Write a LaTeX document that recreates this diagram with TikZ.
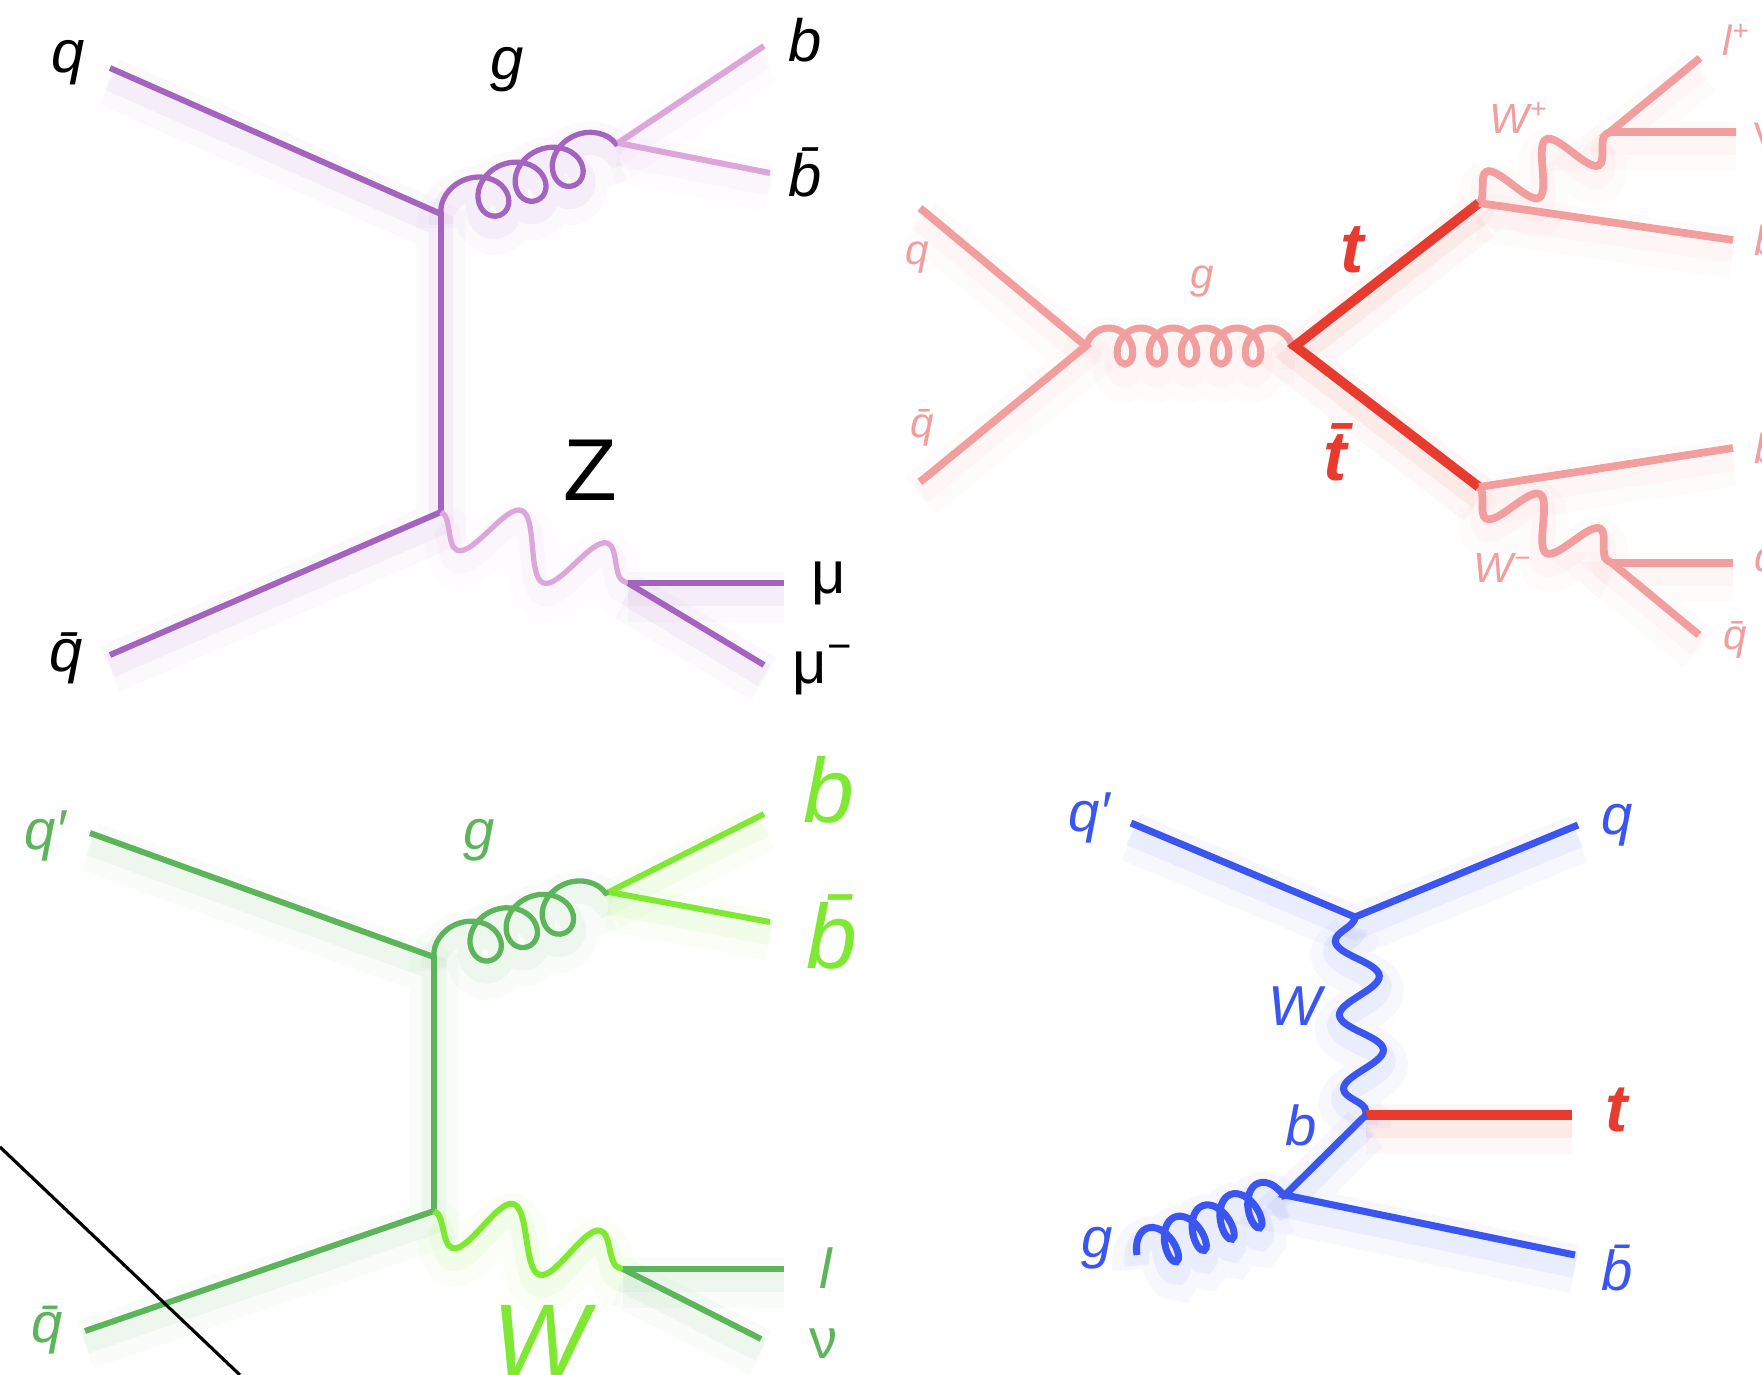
\documentclass[tikz,border=0pt]{standalone}
\usepackage{fontspec}
\setmainfont{Liberation Sans}
\usetikzlibrary{decorations.pathmorphing}

\definecolor{zpurple}{HTML}{A463BF}
\definecolor{zlight}{HTML}{DCA6DA}
\definecolor{tpink}{HTML}{F29E9E}
\definecolor{tred}{HTML}{E63B2E}
\definecolor{wgreen}{HTML}{5DB55B}
\definecolor{wlime}{HTML}{7FE832}
\definecolor{sblue}{HTML}{3A55F0}

\tikzset{
  glow/.style={preaction={draw=#1, line width=14pt, opacity=.04, transform canvas={yshift=-4pt}},
               preaction={draw=#1, line width=7pt, opacity=.07, transform canvas={yshift=-3pt}}},
  prop/.style={draw=#1, line width=1.7pt, glow=#1},
  gluon/.style={decorate, decoration={coil, aspect=1.05, amplitude=2.3mm, segment length=4mm}},
  boson/.style={decorate, decoration={snake, amplitude=3mm, segment length=9.2mm}},
  lbl/.style={inner sep=0pt, font=\fontsize{#1}{#1}\selectfont\itshape},
  ulbl/.style={inner sep=0pt, font=\fontsize{#1}{#1}\selectfont},
}

\begin{document}
\begin{tikzpicture}[x=0.01cm, y=-0.01cm]
  \useasboundingbox (0,0) rectangle (1762,1375);

  % q qbar -> Z b bbar
  \coordinate (qA) at (110,68);
  \coordinate (vA1) at (441,214);
  \coordinate (gA) at (618,143);
  \coordinate (bA) at (764,46);
  \coordinate (bbA) at (770,173);
  \coordinate (vA2) at (441,512);
  \coordinate (qbA) at (110,655);
  \coordinate (zA) at (628,583);
  \coordinate (muA) at (784,583);
  \coordinate (mumA) at (764,665);
  \draw[prop=zpurple] (qA) -- (vA1) -- (vA2) -- (qbA);
  \draw[prop=zpurple, line width=1.5pt, gluon] (vA1) -- (gA);
  \draw[prop=zlight] (gA) -- (bA);
  \draw[prop=zlight] (gA) -- (bbA);
  \draw[prop=zlight, line width=1.5pt, boson, decoration={mirror}] (vA2) -- (zA);
  \draw[prop=zpurple] (zA) -- (muA);
  \draw[prop=zpurple] (zA) -- (mumA);
  \node[lbl=17] (lqA) at (68,63) {q};
  \node[lbl=17] (lgA) at (507,70) {g};
  \node[lbl=17] (lbA) at (805,40) {b};
  \node[lbl=17] (lbbA) at (805,172) {\=b};
  \node[lbl=17] (lqbA) at (66,658) {\=q};
  \node[ulbl=25] (lzA) at (590,470) {Z};
  \node[ulbl=17] (lmuA) at (829,583) {μ};
  \node[ulbl=17] (lmumA) at (823,670) {μ\textsuperscript{−}};

  % t tbar pair
  \coordinate (qB) at (920,208);
  \coordinate (qbB) at (920,482);
  \coordinate (vB1) at (1086,346);
  \coordinate (vB2) at (1295,346);
  \coordinate (tB) at (1479,203);
  \coordinate (tbB) at (1479,487);
  \coordinate (wpB) at (1610,132);
  \coordinate (lpB) at (1700,58);
  \coordinate (nuB) at (1736,132);
  \coordinate (bB) at (1733,240);
  \coordinate (bbB) at (1733,448);
  \coordinate (wmB) at (1612,563);
  \coordinate (qqB) at (1733,563);
  \coordinate (qbbB) at (1699,635);
  \draw[prop=tpink, line width=2.2pt] (qB) -- (vB1) -- (qbB);
  \draw[prop=tpink, line width=2pt, gluon, decoration={amplitude=1.8mm, aspect=.83, segment length=3.2mm}] (vB1) -- (vB2);
  \draw[prop=tred, line width=2.8pt] (tB) -- (vB2) -- (tbB);
  \draw[prop=tpink, line width=2.2pt, boson, decoration={amplitude=2.4mm, segment length=6.8mm}] (tB) -- (wpB);
  \draw[prop=tpink, line width=2.2pt, boson, decoration={amplitude=2.4mm, segment length=6.95mm, mirror}] (tbB) -- (wmB);
  \draw[prop=tpink, line width=2.2pt] (lpB) -- (wpB) -- (nuB);
  \draw[prop=tpink, line width=2.2pt] (tB) -- (bB);
  \draw[prop=tpink, line width=2.2pt] (tbB) -- (bbB);
  \draw[prop=tpink, line width=2.2pt] (qqB) -- (wmB) -- (qbbB);
  \begin{scope}[every node/.append style={text=tpink}]
    \node[lbl=12] (lqB) at (917,258) {q};
    \node[lbl=12] (lqbB) at (922,428) {\=q};
    \node[lbl=12] (lgB) at (1202,282) {g};
    \node[lbl=12] (lwpB) at (1519,118) {W\textsuperscript{+}};
    \node[lbl=12] (lwmB) at (1503,568) {W\textsuperscript{−}};
    \node[lbl=12, anchor=west] (llpB) at (1722,40) {l\textsuperscript{+}};
    \node[ulbl=12, anchor=west] (lnuB) at (1754,134) {ν};
    \node[lbl=12, anchor=west] (lbB) at (1754,240) {b};
    \node[lbl=12, anchor=west] (lbbB) at (1754,446) {\=b};
    \node[lbl=12, anchor=west] (lqqB) at (1754,565) {q};
    \node[lbl=12] (lqbbB) at (1735,640) {\=q};
  \end{scope}
  \node[lbl=20, text=tred, font=\fontsize{20}{20}\selectfont\bfseries\itshape] (ltB) at (1352,250) {t};
  \node[lbl=20, text=tred, font=\fontsize{20}{20}\selectfont\bfseries\itshape] (ltbB) at (1335,452) {\=t};

  % q q' -> W b bbar
  \coordinate (qC) at (90,833);
  \coordinate (vC1) at (434,957);
  \coordinate (gC) at (609,892);
  \coordinate (bC) at (764,814);
  \coordinate (bbC) at (770,922);
  \coordinate (vC2) at (434,1211);
  \coordinate (qbC) at (85,1331);
  \coordinate (wC) at (623,1269);
  \coordinate (lC) at (784,1269);
  \coordinate (nuC) at (761,1339);
  \draw[prop=wgreen] (qC) -- (vC1) -- (vC2) -- (qbC);
  \draw[prop=wgreen, line width=1.5pt, gluon, decoration={segment length=3.85mm}] (vC1) -- (gC);
  \draw[prop=wlime] (gC) -- (bC);
  \draw[prop=wlime] (gC) -- (bbC);
  \draw[prop=wlime, boson, decoration={segment length=9.1mm, mirror}] (vC2) -- (wC);
  \draw[prop=wgreen] (wC) -- (lC);
  \draw[prop=wgreen] (wC) -- (nuC);
  \begin{scope}[every node/.append style={text=wgreen}]
    \node[lbl=16] (lqC) at (45,836) {q′};
    \node[lbl=16] (lgC) at (479,840) {g};
    \node[lbl=16] (lqbC) at (47,1330) {\=q};
    \node[lbl=16] (llC) at (826,1268) {l};
    \node[ulbl=16] (lnuC) at (824,1344) {ν};
  \end{scope}
  \begin{scope}[every node/.append style={text=wlime}]
    \node[lbl=26] (lbC) at (829,790) {b};
    \node[lbl=26] (lbbC) at (832,932) {\=b};
    \node[lbl=29] (lwC) at (541,1340) {W};
  \end{scope}

  % single top, t-channel
  \coordinate (qpD) at (1131,823);
  \coordinate (vD1) at (1355,917);
  \coordinate (qD) at (1578,825);
  \coordinate (vD2) at (1366,1115);
  \coordinate (tD) at (1572,1115);
  \coordinate (vD3) at (1285,1195);
  \coordinate (gD) at (1137,1255);
  \coordinate (bbD) at (1575,1255);
  \draw[prop=sblue, line width=2pt] (qpD) -- (vD1) -- (qD);
  \draw[prop=sblue, line width=2pt, boson, decoration={amplitude=2.1mm, segment length=7.4mm, mirror}] (vD1) -- (vD2);
  \draw[prop=tred, line width=2.6pt] (vD2) -- (tD);
  \draw[prop=sblue, line width=2pt] (vD2) -- (vD3) -- (bbD);
  \draw[prop=sblue, line width=2pt, gluon, decoration={amplitude=2.1mm, aspect=.55, segment length=3mm}] (gD) -- (vD3);
  \begin{scope}[every node/.append style={text=sblue}]
    \node[lbl=16] (lqpD) at (1089,818) {q′};
    \node[lbl=16] (lqD) at (1617,825) {q};
    \node[lbl=16] (lwD) at (1295,1006) {W};
    \node[lbl=16] (lbD) at (1301,1125) {b};
    \node[lbl=16] (lgD) at (1097,1248) {g};
    \node[lbl=16] (lbbD) at (1617,1268) {\=b};
  \end{scope}
  \node[lbl=19, text=tred, font=\fontsize{19}{19}\selectfont\bfseries\itshape] (ltD) at (1617,1110) {t};

  % stray stroke across the lower left
  \coordinate (s1) at (0,1147);
  \coordinate (s2) at (240,1375);
  \draw[line width=0.9pt] (s1) -- (s2);
\end{tikzpicture}
\end{document}
